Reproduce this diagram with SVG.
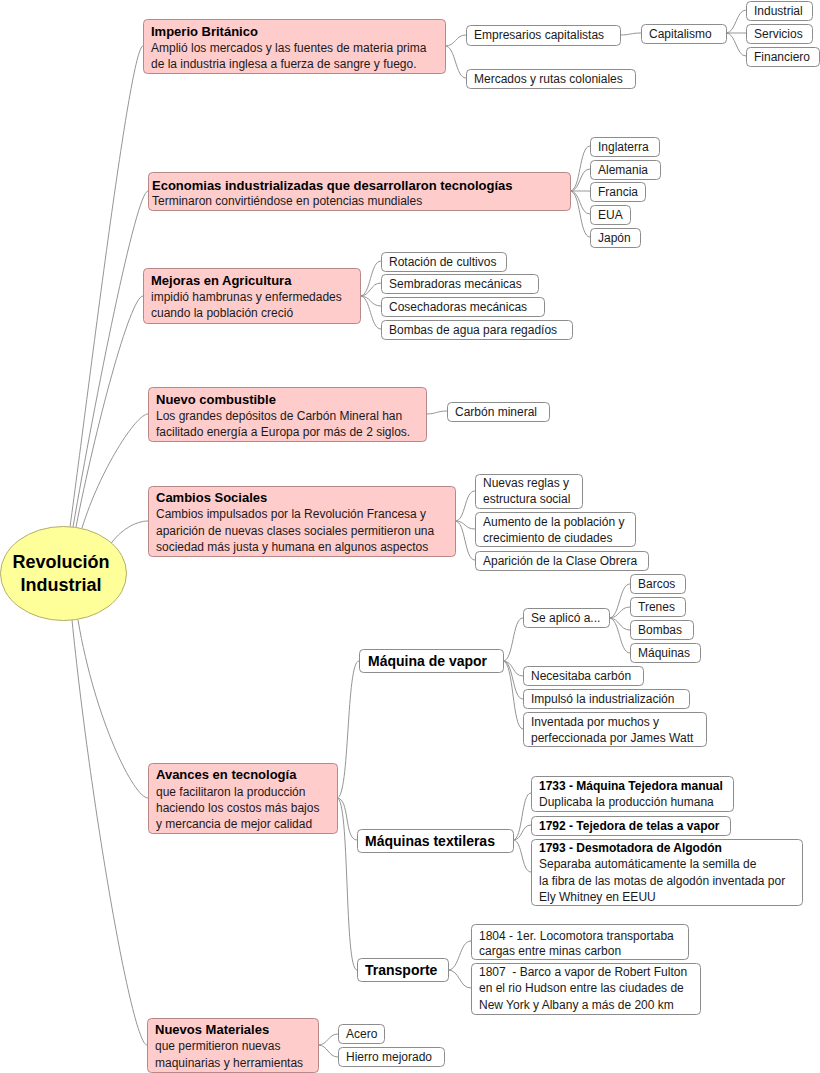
<svg xmlns="http://www.w3.org/2000/svg" width="820" height="1073" viewBox="0 0 820 1073">
<style>
text{font-family:"Liberation Sans",Arial,sans-serif;fill:#1a1a1a}
.m{fill:#ffcccc;stroke:#b88888;stroke-width:1}
.c{fill:#fff;stroke:#8c8c8c;stroke-width:1}
.t{font-size:13px;font-weight:bold;fill:#000}
.s{font-size:12px}
.b{font-size:12px;font-weight:bold;fill:#000}
.h{font-size:14px;font-weight:bold;fill:#000}
.root{font-size:18px;font-weight:bold;fill:#000}
#connectors path{fill:none;stroke:#959595;stroke-width:1}
</style>
<rect width="820" height="1073" fill="#fff"/>
<g id="connectors">
<path d="M70 527 C90 380 130 46 143 46"/>
<path d="M73 527 C95 400 136 191 148 191"/>
<path d="M76 527 C95 430 130 296 143 296"/>
<path d="M82 528 C100 470 136 414 148 414"/>
<path d="M110 545 C120 530 136 521 148 521"/>
<path d="M78 620 C95 720 134 798 148 798"/>
<path d="M72 620 C90 800 132 1045 147 1045"/>
<path d="M445 46 C456 46 455 35 466 35"/>
<path d="M445 46 C456 46 455 78 466 78"/>
<path d="M620 35 C630 35 631 33 641 33"/>
<path d="M726 33 C736 33 736 10 746 10"/>
<path d="M726 33 C736 33 736 33 746 33"/>
<path d="M726 33 C736 33 736 56 746 56"/>
<path d="M570 191 C581 191 579 146 590 146"/>
<path d="M570 191 C581 191 579 169 590 169"/>
<path d="M570 191 C581 191 579 191 590 191"/>
<path d="M570 191 C581 191 579 214 590 214"/>
<path d="M570 191 C581 191 579 237 590 237"/>
<path d="M360 296 C371 296 370 261 381 261"/>
<path d="M360 296 C371 296 370 283 381 283"/>
<path d="M360 296 C371 296 370 306 381 306"/>
<path d="M360 296 C371 296 370 329 381 329"/>
<path d="M426 414 C436 414 437 411 447 411"/>
<path d="M455 521 C466 521 464 491 475 491"/>
<path d="M455 521 C466 521 464 529 475 529"/>
<path d="M455 521 C466 521 464 560 475 560"/>
<path d="M337 798 C350 798 346 661 359 661"/>
<path d="M337 798 C350 798 344 840 357 840"/>
<path d="M337 798 C350 798 344 970 357 970"/>
<path d="M503 661 C514 661 512 618 523 618"/>
<path d="M503 661 C514 661 512 676 523 676"/>
<path d="M503 661 C514 661 512 699 523 699"/>
<path d="M503 661 C514 661 512 729 523 729"/>
<path d="M609 618 C620 618 619 584 630 584"/>
<path d="M609 618 C620 618 619 607 630 607"/>
<path d="M609 618 C620 618 619 630 630 630"/>
<path d="M609 618 C620 618 619 653 630 653"/>
<path d="M513 840 C523 840 521 793 531 793"/>
<path d="M513 840 C523 840 521 825 531 825"/>
<path d="M513 840 C523 840 521 872 531 872"/>
<path d="M448 970 C460 970 459 941 471 941"/>
<path d="M448 970 C460 970 459 988 471 988"/>
<path d="M318 1045 C328 1045 328 1034 338 1034"/>
<path d="M318 1045 C328 1045 328 1057 338 1057"/>
</g>
<g id="root">
<ellipse cx="63.5" cy="573.5" rx="63" ry="47" fill="#ffff99" stroke="#b3ad6a"/>
<text class="root" x="61" y="568" text-anchor="middle">Revolución</text>
<text class="root" x="61" y="591" text-anchor="middle">Industrial</text>
</g>
<g id="imperio">
<rect class="m" x="143.5" y="19.5" width="302" height="54" rx="4"/>
<text class="t" x="151" y="36">Imperio Británico</text>
<text class="s" x="151" y="52">Amplió los mercados y las fuentes de materia prima</text>
<text class="s" x="151" y="68">de la industria inglesa a fuerza de sangre y fuego.</text>
</g>
<g id="empresarios"><rect class="c" x="466.5" y="25.5" width="154" height="20" rx="4"/><text class="s" x="474" y="39">Empresarios capitalistas</text></g>
<g id="capitalismo"><rect class="c" x="641.5" y="24.5" width="85" height="19" rx="4"/><text class="s" x="649" y="38">Capitalismo</text></g>
<g id="industrial"><rect class="c" x="746.5" y="1.5" width="66" height="19" rx="4"/><text class="s" x="754" y="15">Industrial</text></g>
<g id="servicios"><rect class="c" x="746.5" y="24.5" width="66" height="19" rx="4"/><text class="s" x="754" y="38">Servicios</text></g>
<g id="financiero"><rect class="c" x="746.5" y="47.5" width="73" height="19" rx="4"/><text class="s" x="754" y="61">Financiero</text></g>
<g id="mercados"><rect class="c" x="466.5" y="69.5" width="169" height="19" rx="4"/><text class="s" x="474" y="83">Mercados y rutas coloniales</text></g>

<g id="economias">
<rect class="m" x="148.5" y="172.5" width="422" height="38" rx="4"/>
<text class="t" x="152" y="190">Economias industrializadas que desarrollaron tecnologías</text>
<text class="s" x="152" y="205">Terminaron convirtiéndose en potencias mundiales</text>
</g>
<g id="inglaterra"><rect class="c" x="590.5" y="137.5" width="69" height="19" rx="4"/><text class="s" x="598" y="151">Inglaterra</text></g>
<g id="alemania"><rect class="c" x="590.5" y="160.5" width="70" height="19" rx="4"/><text class="s" x="598" y="174">Alemania</text></g>
<g id="francia"><rect class="c" x="590.5" y="182.5" width="55" height="19" rx="4"/><text class="s" x="598" y="196">Francia</text></g>
<g id="eua"><rect class="c" x="590.5" y="205.5" width="40" height="19" rx="4"/><text class="s" x="598" y="219">EUA</text></g>
<g id="japon"><rect class="c" x="590.5" y="228.5" width="50" height="19" rx="4"/><text class="s" x="598" y="242">Japón</text></g>

<g id="mejoras">
<rect class="m" x="143.5" y="268.5" width="217" height="55" rx="4"/>
<text class="t" x="151" y="285">Mejoras en Agricultura</text>
<text class="s" x="151" y="301">impidió hambrunas y enfermedades</text>
<text class="s" x="151" y="317">cuando la población creció</text>
</g>
<g id="rotacion"><rect class="c" x="381.5" y="252.5" width="125" height="19" rx="4"/><text class="s" x="389" y="266">Rotación de cultivos</text></g>
<g id="sembradoras"><rect class="c" x="381.5" y="274.5" width="157" height="19" rx="4"/><text class="s" x="389" y="288">Sembradoras mecánicas</text></g>
<g id="cosechadoras"><rect class="c" x="381.5" y="297.5" width="163" height="19" rx="4"/><text class="s" x="389" y="311">Cosechadoras mecánicas</text></g>
<g id="bombasagua"><rect class="c" x="381.5" y="320.5" width="191" height="19" rx="4"/><text class="s" x="389" y="334">Bombas de agua para regadíos</text></g>

<g id="combustible">
<rect class="m" x="148.5" y="387.5" width="278" height="54" rx="4"/>
<text class="t" x="156" y="404">Nuevo combustible</text>
<text class="s" x="156" y="420">Los grandes depósitos de Carbón Mineral han</text>
<text class="s" x="156" y="436">facilitado energía a Europa por más de 2 siglos.</text>
</g>
<g id="carbon"><rect class="c" x="447.5" y="402.5" width="102" height="19" rx="4"/><text class="s" x="455" y="416">Carbón mineral</text></g>

<g id="cambios">
<rect class="m" x="148.5" y="486.5" width="307" height="70" rx="4"/>
<text class="t" x="156" y="502">Cambios Sociales</text>
<text class="s" x="156" y="518">Cambios impulsados por la Revolución Francesa y</text>
<text class="s" x="156" y="535">aparición de nuevas clases sociales permitieron una</text>
<text class="s" x="156" y="551">sociedad más justa y humana en algunos aspectos</text>
</g>
<g id="reglas"><rect class="c" x="475.5" y="474.5" width="107" height="34" rx="4"/><text class="s" x="483" y="487">Nuevas reglas y</text><text class="s" x="483" y="503">estructura social</text></g>
<g id="aumento"><rect class="c" x="475.5" y="512.5" width="160" height="34" rx="4"/><text class="s" x="483" y="526">Aumento de la población y</text><text class="s" x="483" y="542">crecimiento de ciudades</text></g>
<g id="obrera"><rect class="c" x="475.5" y="551.5" width="173" height="19" rx="4"/><text class="s" x="483" y="565">Aparición de la Clase Obrera</text></g>

<g id="avances">
<rect class="m" x="148.5" y="763.5" width="189" height="70" rx="4"/>
<text class="t" x="156" y="779">Avances en tecnología</text>
<text class="s" x="156" y="796">que facilitaron la producción</text>
<text class="s" x="156" y="812">haciendo los costos más bajos</text>
<text class="s" x="156" y="828">y mercancia de mejor calidad</text>
</g>
<g id="vapor"><rect class="c" x="359.5" y="649.5" width="144" height="23" rx="4"/><text class="h" x="368" y="666">Máquina de vapor</text></g>
<g id="seaplico"><rect class="c" x="523.5" y="608.5" width="86" height="19" rx="4"/><text class="s" x="531" y="622">Se aplicó a...</text></g>
<g id="barcos"><rect class="c" x="630.5" y="574.5" width="55" height="19" rx="4"/><text class="s" x="638" y="588">Barcos</text></g>
<g id="trenes"><rect class="c" x="630.5" y="597.5" width="55" height="19" rx="4"/><text class="s" x="638" y="611">Trenes</text></g>
<g id="bombas"><rect class="c" x="630.5" y="620.5" width="63" height="19" rx="4"/><text class="s" x="638" y="634">Bombas</text></g>
<g id="maquinas"><rect class="c" x="630.5" y="643.5" width="70" height="19" rx="4"/><text class="s" x="638" y="657">Máquinas</text></g>
<g id="necesitaba"><rect class="c" x="523.5" y="666.5" width="120" height="19" rx="4"/><text class="s" x="531" y="680">Necesitaba carbón</text></g>
<g id="impulso"><rect class="c" x="523.5" y="689.5" width="166" height="19" rx="4"/><text class="s" x="531" y="703">Impulsó la industrialización</text></g>
<g id="inventada"><rect class="c" x="523.5" y="712.5" width="183" height="34" rx="4"/><text class="s" x="531" y="726">Inventada por muchos y</text><text class="s" x="531" y="742">perfeccionada por James Watt</text></g>

<g id="textileras"><rect class="c" x="357.5" y="829.5" width="156" height="23" rx="4"/><text class="h" x="365" y="846">Máquinas textileras</text></g>
<g id="t1733"><rect class="c" x="531.5" y="776.5" width="202" height="35" rx="4"/><text class="b" x="539" y="790">1733 - Máquina Tejedora manual</text><text class="s" x="539" y="806">Duplicaba la producción humana</text></g>
<g id="t1792"><rect class="c" x="531.5" y="816.5" width="199" height="19" rx="4"/><text class="b" x="539" y="830">1792 - Tejedora de telas a vapor</text></g>
<g id="t1793"><rect class="c" x="531.5" y="839.5" width="271" height="66" rx="4"/><text class="b" x="539" y="852">1793 - Desmotadora de Algodón</text><text class="s" x="539" y="868">Separaba automáticamente la semilla de</text><text class="s" x="539" y="885">la fibra de las motas de algodón inventada por</text><text class="s" x="539" y="901">Ely Whitney en EEUU</text></g>

<g id="transporte"><rect class="c" x="357.5" y="958.5" width="91" height="23" rx="4"/><text class="h" x="365" y="975">Transporte</text></g>
<g id="t1804"><rect class="c" x="471.5" y="924.5" width="217" height="35" rx="4"/><text class="s" x="479" y="940">1804 - 1er. Locomotora transportaba</text><text class="s" x="479" y="955">cargas entre minas carbon</text></g>
<g id="t1807"><rect class="c" x="471.5" y="963.5" width="229" height="51" rx="4"/><text class="s" x="479" y="976" xml:space="preserve">1807  - Barco a vapor de Robert Fulton</text><text class="s" x="479" y="992">en el rio Hudson entre las ciudades de</text><text class="s" x="479" y="1009">New York y Albany a más de 200 km</text></g>

<g id="materiales">
<rect class="m" x="147.5" y="1018.5" width="171" height="54" rx="4"/>
<text class="t" x="155" y="1034">Nuevos Materiales</text>
<text class="s" x="155" y="1050">que permitieron nuevas</text>
<text class="s" x="155" y="1067">maquinarias y herramientas</text>
</g>
<g id="acero"><rect class="c" x="338.5" y="1024.5" width="46" height="19" rx="4"/><text class="s" x="346" y="1038">Acero</text></g>
<g id="hierro"><rect class="c" x="338.5" y="1047.5" width="106" height="19" rx="4"/><text class="s" x="346" y="1061">Hierro mejorado</text></g>
</svg>
